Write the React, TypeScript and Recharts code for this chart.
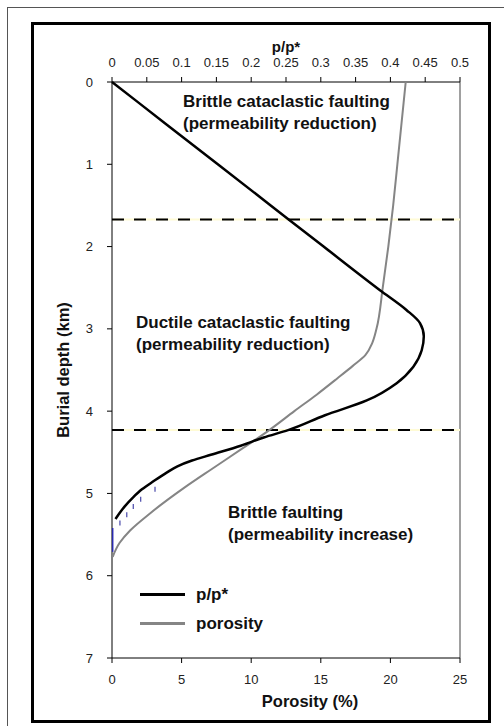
import React from 'react'
import { ScatterChart, Scatter, XAxis, YAxis, ReferenceLine, Legend } from 'recharts'

// burial depth (km) vs p/p* (top axis)
const PP_DEPTH = [0, 0.5, 1, 1.5, 2, 2.53, 2.77, 2.93, 3.09, 3.26, 3.46, 3.66, 3.87, 4.05, 4.23, 4.32, 4.42, 4.53, 4.6, 4.67, 4.75, 4.85, 4.95, 5.05, 5.16, 5.31]
const PP_VALUES = [0, 0.076, 0.152, 0.228, 0.304, 0.385, 0.423, 0.4425, 0.448, 0.445, 0.433, 0.409, 0.366, 0.306, 0.253, 0.218, 0.185, 0.142, 0.115, 0.094, 0.078, 0.06, 0.043, 0.03, 0.018, 0.005]

// burial depth (km) vs porosity (%)
const POR_DEPTH = [0, 0.5, 1, 1.5, 2, 2.5, 3, 3.17, 3.32, 3.45, 3.6, 3.8, 4, 4.23, 4.45, 4.7, 4.93, 5.24, 5.45, 5.6, 5.77]
const POR_VALUES = [21.1, 20.8, 20.5, 20.2, 19.85, 19.45, 19.0, 18.7, 18.2, 17.3, 16.2, 14.7, 13.1, 11.3, 9.4, 7.2, 5.2, 2.75, 1.3, 0.55, 0.05]

// stray blue marks left in the original figure
const TRACE_DEPTH = [4.95, 5.07, 5.16, 5.26, 5.36]
const TRACE_VALUES = [3.09, 2.06, 1.53, 1.06, 0.57]
const EDGE_DEPTH = [5.42, 5.71]
const EDGE_VALUES = [0.05, 0.05]

const DEPTH_TICKS = [0, 1, 2, 3, 4, 5, 6, 7]
const POROSITY_TICKS = [0, 5, 10, 15, 20, 25]
const PP_TICKS = [0, 0.05, 0.1, 0.15, 0.2, 0.25, 0.3, 0.35, 0.4, 0.45, 0.5]
const ZONE_BOUNDARIES = [1.67, 4.23]

const ZONE_TEXT = [
  ['Brittle cataclastic faulting', '(permeability reduction)'],
  ['Ductile cataclastic faulting', '(permeability reduction)'],
  ['Brittle faulting', '(permeability increase)'],
]
const LEGEND_ITEMS = [
  { name: 'p/p*', color: '#000000' },
  { name: 'porosity', color: '#858585' },
]

const FONT = 'Arial, "Liberation Sans", sans-serif'
const zip = (ys: number[], xs: number[]) => ys.map((y, i) => ({ x: xs[i], y }))

const ppData = zip(PP_DEPTH, PP_VALUES)
const porData = zip(POR_DEPTH, POR_VALUES)
const traceData = zip(TRACE_DEPTH, TRACE_VALUES)
const edgeData = zip(EDGE_DEPTH, EDGE_VALUES)

const zonePos = [
  { left: 183, top: 91 },
  { left: 136, top: 312 },
  { left: 228, top: 502 },
]

const tick = { fontSize: 13, fill: '#222', fontFamily: FONT }
const titleStyle = { fontSize: 16.5, fontWeight: 700, fill: '#111', fontFamily: FONT }

function renderLegend() {
  return (
    <div style={{ fontFamily: FONT }}>
      {LEGEND_ITEMS.map((item) => (
        <div key={item.name} style={{ display: 'flex', alignItems: 'center', height: 29 }}>
          <div style={{ width: 45, height: 3.5, background: item.color, marginRight: 11 }} />
          <span style={{ fontSize: 17, fontWeight: 700, color: '#111' }}>{item.name}</span>
        </div>
      ))}
    </div>
  )
}

export default function App() {
  return (
    <div style={{ position: 'absolute', left: 0, top: 0, width: 504, height: 726, overflow: 'hidden', background: '#fff', fontFamily: FONT }}>
      <div style={{ position: 'absolute', left: 7, top: 7, width: 497, height: 719, borderLeft: '1px solid #555', borderTop: '1px solid #555' }} />
      <div style={{ position: 'absolute', left: 31, top: 22, width: 460, height: 701, border: '3px solid #000', boxSizing: 'border-box' }} />
      <div style={{ position: 'absolute', left: 0, top: 0 }}>
        <ScatterChart width={504} height={726} margin={{ top: 42, right: 44, bottom: 28, left: 52 }}>
          <XAxis
            xAxisId="por"
            type="number"
            dataKey="x"
            domain={[0, 25]}
            ticks={POROSITY_TICKS}
            orientation="bottom"
            height={40}
            tickSize={5}
            tickMargin={12}
            tick={tick}
            stroke="#000"
            label={{ value: 'Porosity (%)', position: 'bottom', offset: -3, dx: 24, style: titleStyle }}
          />
          <XAxis
            xAxisId="pp"
            type="number"
            dataKey="x"
            domain={[0, 0.5]}
            ticks={PP_TICKS}
            orientation="top"
            height={40}
            tickSize={5}
            tickMargin={10}
            tick={tick}
            stroke="#000"
            label={{ value: 'p/p*', position: 'insideTop', offset: -1, style: { ...titleStyle, fontSize: 15 } }}
          />
          <YAxis
            type="number"
            dataKey="y"
            domain={[0, 7]}
            ticks={DEPTH_TICKS}
            reversed
            width={60}
            tickSize={5}
            tickMargin={14}
            tick={tick}
            stroke="#000"
            label={{ value: 'Burial depth (km)', angle: -90, position: 'insideLeft', offset: 11, style: { ...titleStyle, textAnchor: 'middle' } }}
          />
          <ReferenceLine xAxisId="por" x={25} stroke="#808080" strokeWidth={1.5} />
          {ZONE_BOUNDARIES.map((d) => (
            <ReferenceLine key={`y-${d}`} xAxisId="por" y={d} stroke="#fffbd6" strokeWidth={2} />
          ))}
          {ZONE_BOUNDARIES.map((d) => (
            <ReferenceLine key={`d-${d}`} xAxisId="por" y={d} stroke="#000" strokeWidth={2} strokeDasharray="12 10" />
          ))}
          <Scatter
            name="porosity"
            xAxisId="por"
            data={porData}
            line={{ stroke: '#858585', strokeWidth: 2 }}
            lineJointType="monotoneY"
            shape={() => <g />}
            legendType="none"
            isAnimationActive={false}
          />
          <Scatter
            name="p/p*"
            xAxisId="pp"
            data={ppData}
            line={{ stroke: '#000', strokeWidth: 2.5 }}
            lineJointType="monotoneY"
            shape={() => <g />}
            legendType="none"
            isAnimationActive={false}
          />
          <Scatter
            name="trace"
            xAxisId="por"
            data={traceData}
            shape={(p: any) => <line x1={p.cx} x2={p.cx} y1={p.cy - 2.5} y2={p.cy + 2.5} stroke="#5656b0" strokeWidth={1.3} />}
            legendType="none"
            isAnimationActive={false}
          />
          <Scatter
            name="edge"
            xAxisId="por"
            data={edgeData}
            line={{ stroke: '#2a2ab0', strokeWidth: 1.5 }}
            shape={() => <g />}
            legendType="none"
            isAnimationActive={false}
          />
          <Legend
            content={renderLegend}
            verticalAlign="middle"
            wrapperStyle={{ left: 140, top: 580, width: 140 }}
          />
        </ScatterChart>
      </div>
      {ZONE_TEXT.map((lines, i) => (
        <div
          key={i}
          style={{ position: 'absolute', left: zonePos[i].left, top: zonePos[i].top, fontSize: 17, fontWeight: 700, lineHeight: '21.5px', color: '#111', whiteSpace: 'nowrap' }}
        >
          {lines.map((l) => (
            <div key={l}>{l}</div>
          ))}
        </div>
      ))}
    </div>
  )
}
